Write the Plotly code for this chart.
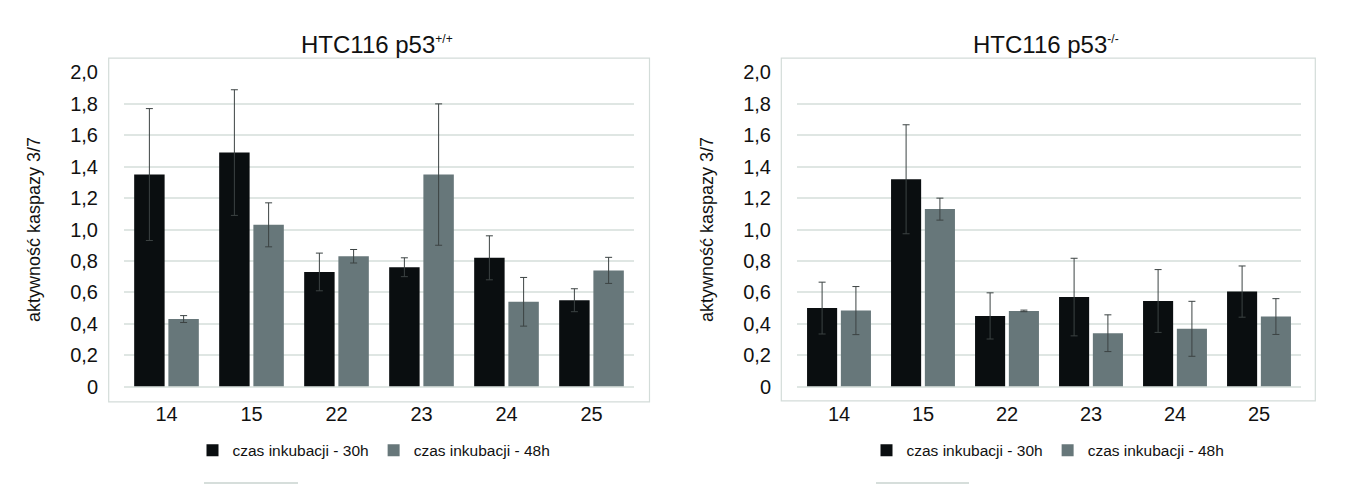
import plotly.graph_objects as go

W, H = 1359, 487

categories = ["14", "15", "22", "23", "24", "25"]
series_names = ["czas inkubacji - 30h", "czas inkubacji - 48h"]

left_30h = [1.35, 1.49, 0.73, 0.76, 0.82, 0.55]
left_30h_err = [0.42, 0.40, 0.12, 0.06, 0.14, 0.073]
left_48h = [0.43, 1.03, 0.83, 1.35, 0.54, 0.74]
left_48h_err = [0.022, 0.14, 0.043, 0.45, 0.155, 0.083]

right_30h = [0.50, 1.32, 0.45, 0.57, 0.545, 0.605]
right_30h_err = [0.165, 0.347, 0.147, 0.247, 0.20, 0.163]
right_48h = [0.484, 1.13, 0.482, 0.34, 0.368, 0.446]
right_48h_err = [0.153, 0.07, 0.005, 0.117, 0.175, 0.114]

y_tickvals = [0, 0.2, 0.4, 0.6, 0.8, 1.0, 1.2, 1.4, 1.6, 1.8, 2.0]
y_ticktext = ["0", "0,2", "0,4", "0,6", "0,8", "1,0", "1,2", "1,4", "1,6", "1,8", "2,0"]

titles = ["HTC116 p53<sup><span style='font-size:12px'>+/+</span></sup>",
          "HTC116 p53<sup><span style='font-size:12px'>-/-</span></sup>"]
y_title = "aktywność kaspazy 3/7"

DARK = "#0a0e10"
LIGHT = "#67777a"
ERR = "#3c4343"
GRID = "#dfe6e3"
BOX = "#d3dcd9"
FONT = "Liberation Sans, Arial, sans-serif"
TXT = "#111111"

fig = go.Figure()

def add_pair(v30, e30, v48, e48, xa, ya, leg):
    for vals, errs, col, name in [(v30, e30, DARK, series_names[0]), (v48, e48, LIGHT, series_names[1])]:
        fig.add_trace(go.Bar(
            x=categories, y=vals, name=name, marker=dict(color=col, line=dict(width=0)),
            error_y=dict(type="data", array=errs, visible=True, color=ERR, thickness=1, width=3.5),
            xaxis=xa, yaxis=ya, legend=leg,
        ))

add_pair(left_30h, left_30h_err, left_48h, left_48h_err, "x", "y", "legend")
add_pair(right_30h, right_30h_err, right_48h, right_48h_err, "x2", "y2", "legend2")

def px_x(v):
    return v / W

def px_y(v):
    return (H - v) / H

ydom = [px_y(385), px_y(56)]
xdom1 = [px_x(116), px_x(626)]
xdom2 = [px_x(789), px_x(1293)]

xaxis_common = dict(showgrid=False, zeroline=False, showline=False, ticks="",
                    tickfont=dict(size=20, color=TXT, family=FONT), ticklabelstandoff=13)
yaxis_common = dict(range=[0, 2], tickvals=y_tickvals, ticktext=y_ticktext, showgrid=True,
                    gridcolor=GRID, gridwidth=1.5, zeroline=True, zerolinecolor=GRID, zerolinewidth=1.5,
                    showline=False, ticks="", tickfont=dict(size=20, color=TXT, family=FONT),
                    ticklabelstandoff=25,
                    title=dict(text=y_title, font=dict(size=18, color=TXT, family=FONT), standoff=24))

fig.update_layout(
    width=W, height=H, margin=dict(l=0, r=0, t=0, b=0),
    paper_bgcolor="white", plot_bgcolor="white",
    barmode="group", bargap=0.195, bargroupgap=0.11,
    font=dict(family=FONT, color=TXT),
    xaxis=dict(domain=xdom1, anchor="y", **xaxis_common),
    yaxis=dict(domain=ydom, anchor="x", **yaxis_common),
    xaxis2=dict(domain=xdom2, anchor="y2", **xaxis_common),
    yaxis2=dict(domain=ydom, anchor="x2", **yaxis_common),
    legend=dict(orientation="h", x=px_x(366), xanchor="center", y=px_y(452), yanchor="middle",
                font=dict(size=15.5, color=TXT, family=FONT), bgcolor="rgba(0,0,0,0)"),
    legend2=dict(orientation="h", x=px_x(1040), xanchor="center", y=px_y(452), yanchor="middle",
                 font=dict(size=15.5, color=TXT, family=FONT), bgcolor="rgba(0,0,0,0)"),
    showlegend=True,
)

# outer frames of the two chart areas
for (x0, x1, y0, y1) in [(100.7, 641.5, 401, 41), (773.3, 1307.3, 400, 41)]:
    fig.add_shape(type="rect", xref="paper", yref="paper", x0=px_x(x0), x1=px_x(x1),
                  y0=px_y(y0), y1=px_y(y1), line=dict(color=BOX, width=1.2), layer="below")

# small stray lines at the bottom edge
for (x0, x1) in [(196, 290), (868, 961)]:
    fig.add_shape(type="line", xref="paper", yref="paper", x0=px_x(x0), x1=px_x(x1),
                  y0=px_y(486), y1=px_y(486), line=dict(color="#d6dedb", width=2))

for t, cx in zip(titles, [369, 1038]):
    fig.add_annotation(text=t, xref="paper", yref="paper", x=px_x(cx), y=px_y(27),
                       xanchor="center", yanchor="middle", showarrow=False,
                       font=dict(size=24, color=TXT, family=FONT))

fig.write_html("out.html")
